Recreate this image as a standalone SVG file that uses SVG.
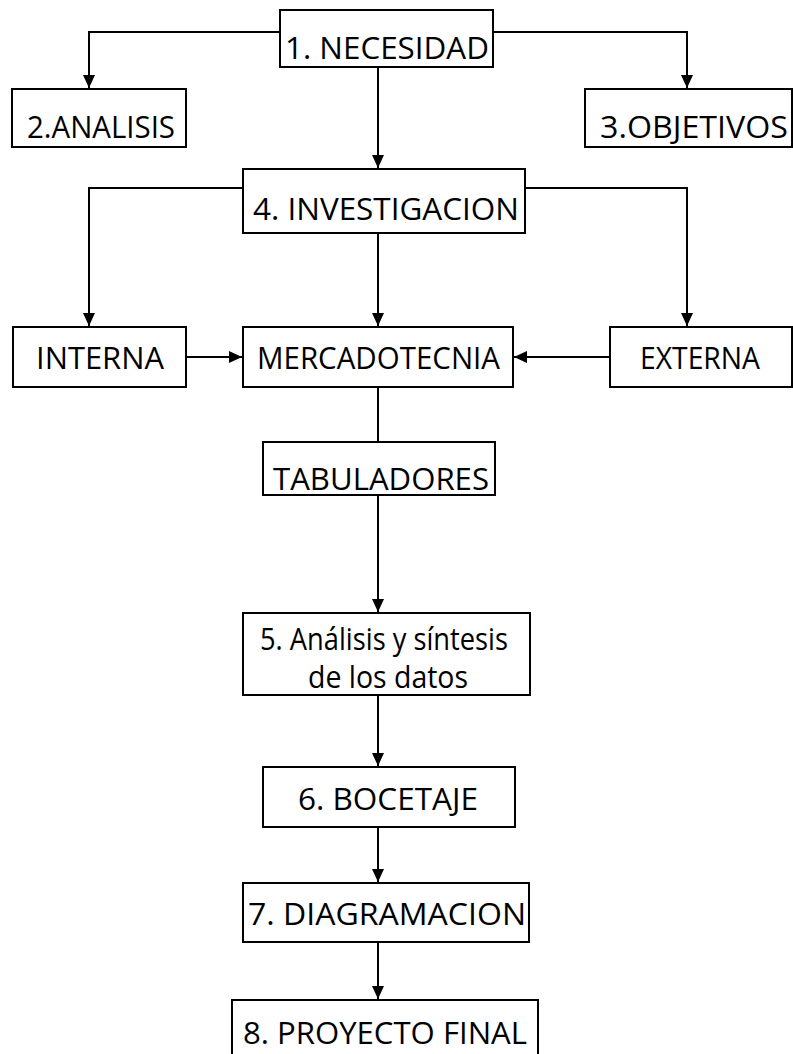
<svg xmlns="http://www.w3.org/2000/svg" width="793" height="1054" viewBox="0 0 793 1054">
<style>
  .box { fill: #ffffff; stroke: #000000; stroke-width: 2; }
  .lbl { font-family: "Open Sans", "Liberation Sans", sans-serif; font-size: 31px; fill: #000000; }
  .con { fill: none; stroke: #000000; stroke-width: 2; }
</style>
<defs>
  <marker id="arr" markerUnits="userSpaceOnUse" markerWidth="14" markerHeight="16" refX="13" refY="6" orient="auto">
    <path d="M0,0 L13,6 L0,12 Z" fill="#000000"/>
  </marker>
</defs>
<rect width="793" height="1054" fill="#ffffff"/>
<g id="connectors">
  <path class="con" d="M280,32 H89 V88" marker-end="url(#arr)"/>
  <path class="con" d="M493,32 H687 V88" marker-end="url(#arr)"/>
  <path class="con" d="M378,67 V168" marker-end="url(#arr)"/>
  <path class="con" d="M243,188 H89 V326" marker-end="url(#arr)"/>
  <path class="con" d="M525,188 H687 V326" marker-end="url(#arr)"/>
  <path class="con" d="M378,233 V326" marker-end="url(#arr)"/>
  <path class="con" d="M186,357 H242" marker-end="url(#arr)"/>
  <path class="con" d="M610,357 H514" marker-end="url(#arr)"/>
  <path class="con" d="M378,387 V442"/>
  <path class="con" d="M378,495 V612" marker-end="url(#arr)"/>
  <path class="con" d="M378,695 V766" marker-end="url(#arr)"/>
  <path class="con" d="M378,827 V882" marker-end="url(#arr)"/>
  <path class="con" d="M378,942 V999" marker-end="url(#arr)"/>
</g>
<g id="n1">
  <rect class="box" x="280" y="10" width="213" height="57"/>
  <text class="lbl" x="285" y="59" textLength="204" lengthAdjust="spacingAndGlyphs">1. NECESIDAD</text>
</g>
<g id="n2">
  <rect class="box" x="12" y="89" width="174" height="58"/>
  <text class="lbl" x="27" y="138" textLength="148" lengthAdjust="spacingAndGlyphs">2.ANALISIS</text>
</g>
<g id="n3">
  <rect class="box" x="585" y="89" width="207" height="58"/>
  <text class="lbl" x="600" y="138" textLength="188" lengthAdjust="spacingAndGlyphs">3.OBJETIVOS</text>
</g>
<g id="n4">
  <rect class="box" x="243" y="169" width="282" height="64"/>
  <text class="lbl" x="253" y="220" textLength="266" lengthAdjust="spacingAndGlyphs">4. INVESTIGACION</text>
</g>
<g id="interna">
  <rect class="box" x="13" y="327" width="173" height="60"/>
  <text class="lbl" x="36" y="369" textLength="128" lengthAdjust="spacingAndGlyphs">INTERNA</text>
</g>
<g id="mercadotecnia">
  <rect class="box" x="243" y="327" width="270" height="60"/>
  <text class="lbl" x="257" y="369" textLength="243" lengthAdjust="spacingAndGlyphs">MERCADOTECNIA</text>
</g>
<g id="externa">
  <rect class="box" x="610" y="327" width="182" height="60"/>
  <text class="lbl" x="640" y="369" textLength="120" lengthAdjust="spacingAndGlyphs">EXTERNA</text>
</g>
<g id="tabuladores">
  <rect class="box" x="263" y="442" width="232" height="53"/>
  <text class="lbl" x="273" y="490" textLength="216" lengthAdjust="spacingAndGlyphs">TABULADORES</text>
</g>
<g id="n5">
  <rect class="box" x="243" y="613" width="287" height="82"/>
  <text class="lbl" x="260" y="650" textLength="248" lengthAdjust="spacingAndGlyphs">5. Análisis y síntesis</text>
  <text class="lbl" x="308" y="688" textLength="160" lengthAdjust="spacingAndGlyphs">de los datos</text>
</g>
<g id="n6">
  <rect class="box" x="263" y="767" width="252" height="60"/>
  <text class="lbl" x="298" y="810" textLength="180" lengthAdjust="spacingAndGlyphs">6. BOCETAJE</text>
</g>
<g id="n7">
  <rect class="box" x="243" y="883" width="286" height="59"/>
  <text class="lbl" x="248" y="925" textLength="278" lengthAdjust="spacingAndGlyphs">7. DIAGRAMACION</text>
</g>
<g id="n8">
  <rect class="box" x="232" y="1000" width="306" height="70"/>
  <text class="lbl" x="243" y="1044" textLength="284" lengthAdjust="spacingAndGlyphs">8. PROYECTO FINAL</text>
</g>
</svg>
